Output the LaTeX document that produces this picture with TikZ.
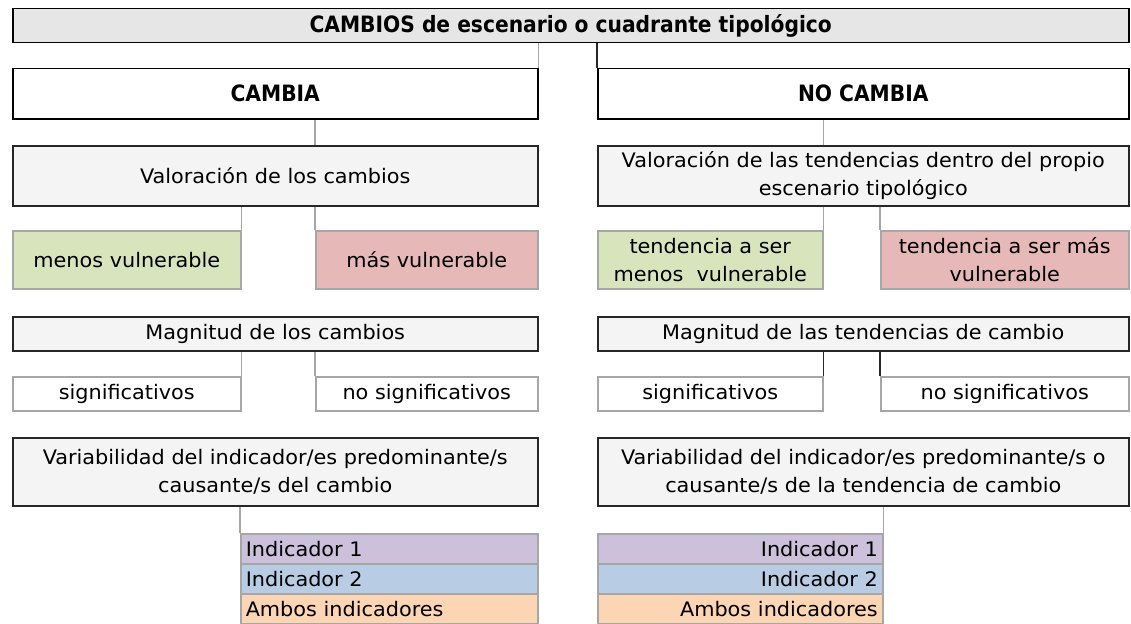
\documentclass[tikz,border=0pt]{standalone}
\usepackage{fontspec}
\setmainfont{DejaVu Sans}[FakeStretch=1.04]
\newfontfamily\condbf{DejaVu Sans Condensed Bold}

\definecolor{hdrgray}{HTML}{E6E6E6}
\definecolor{boxgray}{HTML}{F4F4F4}
\definecolor{lngray}{HTML}{A6A6A6}
\definecolor{vgreen}{HTML}{D8E4BC}
\definecolor{vred}{HTML}{E6B9B8}
\definecolor{ipurple}{HTML}{CCC0DA}
\definecolor{iblue}{HTML}{B8CCE4}
\definecolor{iorange}{HTML}{FCD5B4}

\begin{document}
\begin{tikzpicture}[
    x=1pt, y=-1pt,
    font=\fontsize{20}{28}\selectfont,
    every node/.style = {
      shape=rectangle,
      inner sep=0pt,
      anchor=north west,
      align=center
    },
    hdr/.style = {draw=black, line width=1.5pt, font=\fontsize{22.5}{26}\selectfont\condbf},
    cat/.style = {draw=black!85, line width=1.5pt, fill=boxgray},
    leaf/.style = {draw=lngray, line width=1.5pt},
    indl/.style = {draw=lngray, line width=1.5pt, minimum height=30pt,
      inner xsep=5pt, text width=287pt, align=left},
    indr/.style = {draw=lngray, line width=1.5pt, minimum height=30pt,
      inner xsep=5pt, text width=275pt, align=right},
    gline/.style = {draw=lngray, line width=1.5pt},
    kline/.style = {draw=black!85, line width=1.5pt}
    ]

    \clip (0,0) rectangle (1131,623);

    % cabecera
    \node[hdr, fill=hdrgray, minimum width=1116pt, minimum height=34pt] (top) at (12,8) {CAMBIOS de escenario o cuadrante tipológico};
    \node[hdr, fill=white, minimum width=525pt, minimum height=50pt] (cambia) at (12,68) {CAMBIA};
    \node[hdr, fill=white, minimum width=531pt, minimum height=50pt] (nocambia) at (597,68) {NO CAMBIA};

    % valoracion
    \node[cat, minimum width=525pt, minimum height=60pt] (valc) at (12,145) {Valoración de los cambios};
    \node[cat, minimum width=531pt, minimum height=60pt] (valt) at (597,145) {Valoración de las tendencias dentro del propio\\escenario tipológico};
    \node[leaf, fill=vgreen, minimum width=228pt, minimum height=58pt] (menosv) at (12,230) {menos vulnerable};
    \node[leaf, fill=vred, minimum width=222pt, minimum height=58pt] (masv) at (315,230) {más vulnerable};
    \node[leaf, fill=vgreen, minimum width=225pt, minimum height=58pt] (tmenosv) at (597,230) {tendencia a ser\\menos\ \ vulnerable};
    \node[leaf, fill=vred, minimum width=248pt, minimum height=58pt] (tmasv) at (880,230) {tendencia a ser más\\vulnerable};

    % magnitud
    \node[cat, minimum width=525pt, minimum height=34pt] (magc) at (12,316) {Magnitud de los cambios};
    \node[cat, minimum width=531pt, minimum height=34pt] (magt) at (597,316) {Magnitud de las tendencias de cambio};
    \node[leaf, minimum width=228pt, minimum height=34pt] (sigc) at (12,376) {significativos};
    \node[leaf, minimum width=222pt, minimum height=34pt] (nosigc) at (315,376) {no significativos};
    \node[leaf, minimum width=225pt, minimum height=34pt] (sigt) at (597,376) {significativos};
    \node[leaf, minimum width=248pt, minimum height=34pt] (nosigt) at (880,376) {no significativos};

    % variabilidad
    \node[cat, minimum width=525pt, minimum height=68pt] (varc) at (12,437) {Variabilidad del indicador/es predominante/s\\causante/s del cambio};
    \node[cat, minimum width=531pt, minimum height=68pt] (vart) at (597,437) {Variabilidad del indicador/es predominante/s o\\causante/s de la tendencia de cambio};
    \foreach \c/\t [count=\i] in {ipurple/Indicador 1, iblue/Indicador 2, iorange/Ambos indicadores} {
      \node[indl, fill=\c] (indc\i) at (240,503+30*\i) {\t};
      \node[indr, fill=\c] (indt\i) at (597,503+30*\i) {\t};
    }

    % conectores
    \draw[gline] (cambia.north east |- top.south) -- (cambia.north east);
    \draw[kline] (nocambia.north west |- top.south) -- (nocambia.north west);
    \draw[gline] (masv.north west |- cambia.south) -- (masv.north west |- valc.north);
    \draw[gline] (tmenosv.north east |- nocambia.south) -- (tmenosv.north east |- valt.north);
    \draw[gline] (menosv.north east |- valc.south) -- (menosv.north east);
    \draw[gline] (masv.north west |- valc.south) -- (masv.north west);
    \draw[gline] (tmenosv.north east |- valt.south) -- (tmenosv.north east);
    \draw[gline] (tmasv.north west |- valt.south) -- (tmasv.north west);
    \draw[gline] (sigc.north east |- magc.south) -- (sigc.north east);
    \draw[gline] (nosigc.north west |- magc.south) -- (nosigc.north west);
    \draw[kline] (sigt.north east |- magt.south) -- (sigt.north east);
    \draw[kline] (nosigt.north west |- magt.south) -- (nosigt.north west);
    \draw[gline] (indc1.north west |- varc.south) -- (indc1.north west);
    \draw[gline] (indt1.north east |- vart.south) -- (indt1.north east);

\end{tikzpicture}
\end{document}
